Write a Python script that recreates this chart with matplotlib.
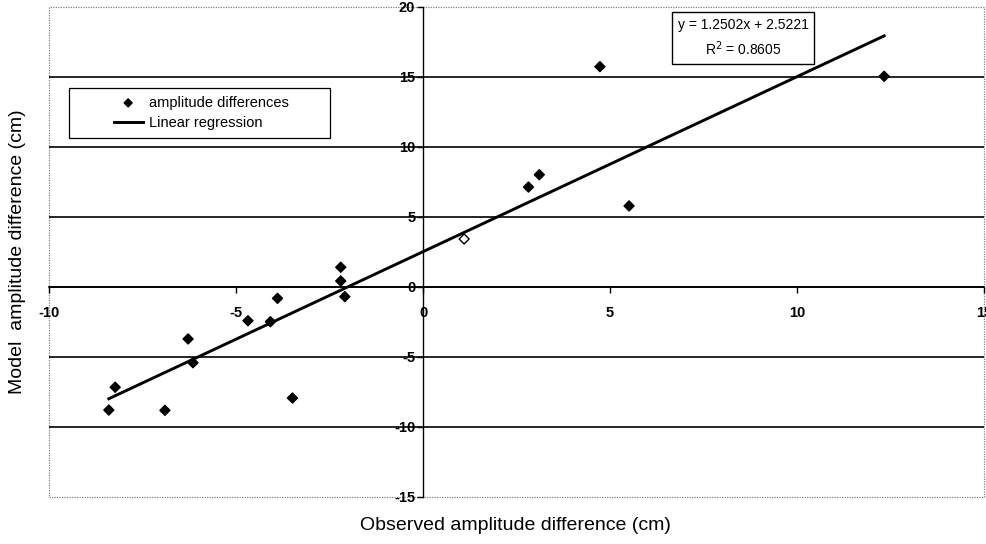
import numpy as np
import matplotlib
matplotlib.use('Agg')
import matplotlib.pyplot as plt
from matplotlib.patches import Rectangle

plt.rcParams['font.family'] = ['Liberation Sans', 'DejaVu Sans']
plt.rcParams['axes.unicode_minus'] = False

# Observed vs model amplitude differences [cm]
obs_diff = [-8.40, -8.23, -6.90, -6.28, -6.15, -4.68, -4.08, -3.89, -3.49,
            -2.20, -2.20, -2.09, 1.10, 2.82, 3.11, 4.73, 5.51, 12.33]
model_diff = [-8.79, -7.16, -8.81, -3.71, -5.41, -2.41, -2.48, -0.81, -7.93,
              0.43, 1.41, -0.69, 3.43, 7.14, 8.02, 15.74, 5.79, 15.05]

# Regression coefficients as printed on the chart
SLOPE = 1.2502
INTERCEPT = 2.5221
R_SQUARED = 0.8605

X_TICKS = [-10, -5, 0, 5, 10, 15]
Y_TICKS = [-15, -10, -5, 0, 5, 10, 15, 20]

fig = plt.figure(figsize=(9.86, 5.44), dpi=100)
ax = fig.add_axes([49 / 986, 47 / 544, 935 / 986, 490 / 544])
ax.set_xlim(X_TICKS[0], X_TICKS[-1])
ax.set_ylim(Y_TICKS[0], Y_TICKS[-1])

# horizontal gridlines inside the plot area
for yv in Y_TICKS[1:-1]:
    ax.axhline(yv, color='black', lw=1.2, zorder=1)

# dotted plot-area border
ax.add_patch(Rectangle((0, 0), 1, 1, transform=ax.transAxes, fill=False,
                       ls=(0, (1, 1)), lw=0.9, ec='#808080', zorder=0,
                       clip_on=False))

# axes crossing at the origin
for s in ['top', 'right']:
    ax.spines[s].set_visible(False)
ax.spines['left'].set_position(('data', 0))
ax.spines['bottom'].set_position(('data', 0))
ax.spines['left'].set_linewidth(1.0)
ax.spines['bottom'].set_linewidth(1.2)

ax.set_xticks(X_TICKS)
ax.set_yticks(Y_TICKS)
ax.tick_params(axis='x', direction='out', length=4, width=1, pad=10,
               labelsize=10.5)
ax.tick_params(axis='y', direction='out', length=4, width=1, pad=1.5,
               labelsize=10.5)
for lab in ax.get_xticklabels() + ax.get_yticklabels():
    lab.set_fontweight('bold')

# scatter points (the one at x~1.1 is drawn hollow)
face = ['black'] * len(obs_diff)
face[12] = 'white'
ax.scatter(obs_diff, model_diff, marker='D', s=26, c=face,
           edgecolors='black', linewidths=1.0, zorder=4,
           label='amplitude differences')

# regression line over the data range
xfit = np.array([min(obs_diff), max(obs_diff)])
ax.plot(xfit, SLOPE * xfit + INTERCEPT, color='black', lw=2.1, zorder=3,
        label='Linear regression')

# legend with a wide Excel-style box
leg = ax.legend(loc='center', bbox_to_anchor=((201 - 49) / 935, (497 - 113) / 490),
                frameon=False, fontsize=10.5, handlelength=2.0, handletextpad=0.4,
                labelspacing=0.45, markerscale=0.8)
ax.add_patch(Rectangle(((69 - 49) / 935, (497 - 138) / 490), 261 / 935, 50 / 490,
                       transform=ax.transAxes, fill=True, fc='white',
                       ec='black', lw=0.9, zorder=5))
leg.set_zorder(6)

# equation box
ax.text((743 - 49) / 935, (497 - 38) / 490,
        'y = %.4fx + %.4f\nR$^2$ = %.4f' % (SLOPE, INTERCEPT, R_SQUARED),
        transform=ax.transAxes, ha='center', va='center', fontsize=10,
        linespacing=1.5, zorder=6,
        bbox=dict(boxstyle='square,pad=0.4', fc='white', ec='black', lw=1.0))

fig.text(515 / 986, 1 - 526 / 544, 'Observed amplitude difference (cm)',
         ha='center', va='center', fontsize=14)
fig.text(18 / 986, 1 - 252 / 544, 'Model  amplitude difference (cm)',
         ha='center', va='center', rotation=90, fontsize=14)

fig.savefig('out.png', dpi=100)
